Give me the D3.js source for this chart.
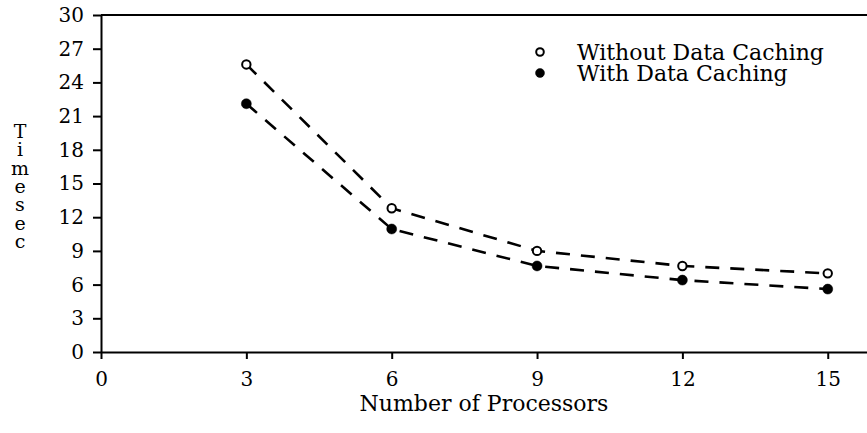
<!DOCTYPE html>
<html>
<head>
<meta charset="utf-8">
<script src="https://cdn.jsdelivr.net/npm/d3@7"></script>
<style>
  html, body { margin: 0; padding: 0; background: #fff; }
  svg { display: block; }
  text { font-family: "DejaVu Serif", serif; fill: #000; }
</style>
</head>
<body>
<div class="chart"></div>
<script>
// data
const processors = [3, 6, 9, 12, 15];
const withoutCaching = [25.6, 12.8, 9.0, 7.66, 7.0];
const withCaching = [22.1, 10.95, 7.66, 6.4, 5.6];
const xTicks = [0, 3, 6, 9, 12, 15];
const yTicks = [0, 3, 6, 9, 12, 15, 18, 21, 24, 27, 30];
const legendLabels = ['Without Data Caching', 'With Data Caching'];

const width = 867;
const height = 433;
const margin = { top: 15, right: 0.5, bottom: 81, left: 101 };

const svg = d3.select('.chart')
  .append('svg')
    .attr('width', width)
    .attr('height', height);

const xScale = d3.scaleLinear()
  .domain([0, 15.8])
  .range([margin.left, width - margin.right]);

const yScale = d3.scaleLinear()
  .domain([0, 30])
  .range([height - margin.bottom, margin.top]);

// axes
const yAxis = d3.axisLeft(yScale)
  .tickValues(yTicks)
  .tickSize(8)
  .tickSizeOuter(0)
  .tickPadding(9);

const xAxis = d3.axisBottom(xScale)
  .tickValues(xTicks)
  .tickSize(7)
  .tickSizeOuter(0)
  .tickPadding(13);

const gy = svg.append('g')
  .attr('transform', `translate(${margin.left}, 0)`)
  .call(yAxis);

const gx = svg.append('g')
  .attr('transform', `translate(0, ${height - margin.bottom})`)
  .call(xAxis);

[gx, gy].forEach(g => {
  g.attr('font-family', null).attr('font-size', null);
  g.selectAll('path, line').attr('stroke', '#000').attr('stroke-width', 2);
  g.selectAll('text').style('font-size', '20px');
});

// top frame line
svg.append('line')
  .attr('x1', xScale(0))
  .attr('x2', width)
  .attr('y1', yScale(30))
  .attr('y2', yScale(30))
  .attr('stroke', '#000')
  .attr('stroke-width', 2);

// axis titles
svg.append('text')
  .attr('x', (xScale(0) + width) / 2)
  .attr('y', 411)
  .attr('text-anchor', 'middle')
  .style('font-size', '22px')
  .text('Number of Processors');

// stacked letters, as in the original
const yTitle = 'Timesec'.split('');
svg.append('g')
  .selectAll('text')
  .data(yTitle)
  .enter()
  .append('text')
    .attr('x', 20)
    .attr('y', (d, i) => 138 + i * 18.3)
    .attr('text-anchor', 'middle')
    .style('font-size', '19px')
    .text(d => d);

// series
const series = [
  { values: withoutCaching, filled: false },
  { values: withCaching, filled: true }
];

const line = d3.line()
  .x(d => xScale(d[0]))
  .y(d => yScale(d[1]));

series.forEach(s => {
  const pts = processors.map((p, i) => [p, s.values[i]]);

  svg.append('path')
    .datum(pts)
    .attr('d', line)
    .attr('fill', 'none')
    .attr('stroke', '#000')
    .attr('stroke-width', 2.6)
    .attr('stroke-dasharray', '14,11');

  svg.append('g')
    .selectAll('circle')
    .data(pts)
    .enter()
    .append('circle')
      .attr('cx', d => xScale(d[0]))
      .attr('cy', d => yScale(d[1]))
      .attr('r', s.filled ? 5 : 4.2)
      .attr('fill', s.filled ? '#000' : '#fff')
      .attr('stroke', '#000')
      .attr('stroke-width', s.filled ? 0.5 : 2);
});

// legend
const legend = svg.append('g')
  .attr('transform', 'translate(540, 52)');

legendLabels.forEach((label, i) => {
  legend.append('circle')
    .attr('cx', 0)
    .attr('cy', i * 21)
    .attr('r', i === 0 ? 3.8 : 4.5)
    .attr('fill', i === 0 ? '#fff' : '#000')
    .attr('stroke', '#000')
    .attr('stroke-width', i === 0 ? 2 : 0.5);

  legend.append('text')
    .attr('x', 37)
    .attr('y', i * 21 + 8)
    .style('font-size', '22px')
    .text(label);
});
</script>
</body>
</html>
